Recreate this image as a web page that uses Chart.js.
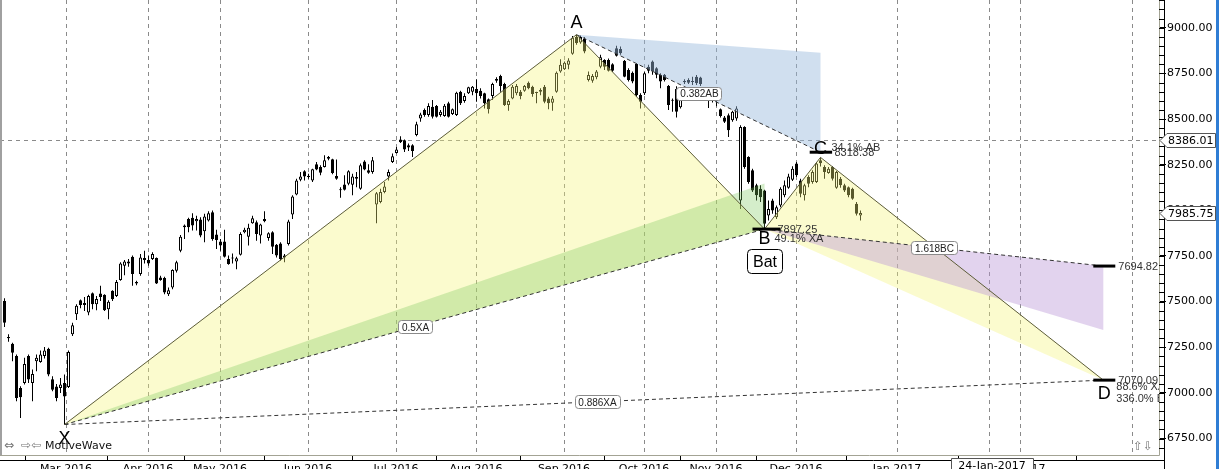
<!DOCTYPE html>
<html>
<head>
<meta charset="utf-8">
<script src="https://cdn.jsdelivr.net/npm/chart.js@4.4.1/dist/chart.umd.min.js"></script>
<style>
html, body { margin: 0; padding: 0; background: #fff; overflow: hidden; }
#wrap { position: relative; width: 1223px; height: 469px; }
#edge { position: absolute; left: 1216px; top: 0; width: 3px; height: 469px; background: #2f7dd4; }
</style>
</head>
<body>
<div id="wrap"><canvas id="myChart" width="1223" height="469"></canvas><div id="edge"></div></div>
<script>
var ctx = document.getElementById('myChart');

// daily bars, bar index 1..215
var opens = [
  7504, 7305, 7269, 7202, 7027, 7055, 7202, 7055, 7174, 7170,
  7202, 7242, 7075, 7035, 7027, 7055, 7033, 7321, 7431, 7508,
  7493, 7440, 7546, 7486, 7544, 7537, 7458, 7559, 7531, 7618,
  7697, 7709, 7746, 7608, 7651, 7728, 7728, 7733, 7739, 7632,
  7629, 7541, 7577, 7669, 7779, 7917, 7953, 7959, 7940, 7950,
  7885, 7944, 7990, 7867, 7830, 7830, 7733, 7736, 7720, 7757,
  7880, 7856, 7929, 7935, 7862, 7953, 7849, 7880, 7812, 7819,
  7752, 7816, 7977, 8087, 8168, 8214, 8190, 8164, 8252, 8237,
  8237, 8292, 8280, 8188, 8115, 8142, 8146, 8140, 8182, 8118,
  8268, 8219, 8210, 8032, 8045, 8100, 8186, 8265, 8314, 8388,
  8384, 8357, 8357, 8412, 8503, 8549, 8522, 8567, 8571, 8522,
  8516, 8586, 8527, 8522, 8650, 8599, 8641, 8650, 8665, 8655,
  8641, 8608, 8626, 8720, 8736, 8692, 8577, 8613, 8641, 8650,
  8655, 8699, 8677, 8646, 8659, 8677, 8613, 8589, 8650, 8760,
  8773, 8797, 8857, 8950, 8919, 8938, 8714, 8710, 8729, 8787,
  8824, 8824, 8800, 8888, 8883, 8819, 8769, 8754, 8802, 8632,
  8641, 8787, 8815, 8778, 8742, 8742, 8681, 8606, 8665, 8564,
  8702, 8714, 8703, 8732, 8727, 8640, 8610, 8625, 8600, 8553,
  8509, 8521, 8494, 8503, 8054, 8457, 8292, 8219, 8137, 8118,
  8109, 7972, 8054, 7962, 8027, 8082, 8124, 8168, 8256, 8164,
  8082, 8182, 8155, 8155, 8274, 8237, 8204, 8237, 8124, 8173,
  8137, 8127, 8118, 8036, 7972
];
var highs = [
  7519, 7321, 7275, 7211, 7037, 7192, 7211, 7128, 7211, 7233,
  7251, 7247, 7091, 7049, 7082, 7101, 7233, 7385, 7486, 7511,
  7526, 7537, 7550, 7531, 7587, 7541, 7508, 7563, 7618, 7715,
  7728, 7733, 7752, 7614, 7761, 7779, 7752, 7770, 7742, 7642,
  7636, 7577, 7678, 7724, 7865, 7922, 7959, 7984, 7971, 7962,
  7981, 7995, 7999, 7893, 7843, 7893, 7752, 7764, 7746, 7880,
  7904, 7926, 7971, 7944, 7926, 7995, 7880, 7885, 7816, 7825,
  7761, 7948, 8082, 8173, 8210, 8219, 8201, 8228, 8265, 8247,
  8302, 8298, 8283, 8278, 8127, 8192, 8219, 8201, 8210, 8256,
  8274, 8252, 8292, 8100, 8118, 8155, 8223, 8311, 8347, 8406,
  8388, 8366, 8362, 8485, 8534, 8558, 8586, 8604, 8577, 8549,
  8582, 8595, 8558, 8650, 8655, 8641, 8677, 8681, 8718, 8668,
  8644, 8613, 8699, 8729, 8742, 8699, 8608, 8686, 8692, 8659,
  8686, 8705, 8683, 8650, 8668, 8686, 8622, 8626, 8760, 8828,
  8815, 8833, 8955, 8962, 8958, 8949, 8760, 8747, 8769, 8852,
  8828, 8831, 8806, 8901, 8897, 8824, 8778, 8760, 8806, 8641,
  8760, 8797, 8820, 8784, 8751, 8747, 8687, 8613, 8680, 8613,
  8718, 8723, 8732, 8741, 8732, 8660, 8640, 8650, 8640, 8558,
  8516, 8531, 8545, 8570, 8466, 8461, 8296, 8228, 8146, 8137,
  8113, 8054, 8063, 8027, 8127, 8164, 8201, 8241, 8265, 8173,
  8146, 8192, 8219, 8260, 8290, 8247, 8237, 8241, 8215, 8182,
  8146, 8131, 8124, 8045, 7999
];
var lows = [
  7361, 7280, 7174, 6954, 6862, 7046, 7055, 6954, 7119, 7165,
  7189, 7091, 7009, 6954, 7000, 6827, 7027, 7312, 7400, 7464,
  7449, 7425, 7458, 7453, 7504, 7449, 7403, 7504, 7526, 7614,
  7645, 7691, 7587, 7590, 7642, 7709, 7697, 7728, 7596, 7614,
  7541, 7531, 7568, 7660, 7770, 7843, 7880, 7889, 7889, 7852,
  7825, 7939, 7834, 7788, 7779, 7742, 7702, 7709, 7678, 7752,
  7874, 7807, 7926, 7834, 7819, 7935, 7834, 7761, 7742, 7724,
  7715, 7807, 7953, 8082, 8159, 8164, 8173, 8155, 8219, 8192,
  8234, 8274, 8197, 8168, 8069, 8109, 8137, 8082, 8127, 8113,
  8219, 8201, 8201, 7929, 8039, 8094, 8164, 8259, 8311, 8369,
  8320, 8325, 8292, 8406, 8485, 8512, 8512, 8503, 8509, 8512,
  8512, 8509, 8522, 8516, 8577, 8589, 8637, 8631, 8595, 8613,
  8558, 8531, 8604, 8699, 8650, 8571, 8545, 8608, 8631, 8608,
  8650, 8663, 8622, 8586, 8631, 8586, 8553, 8545, 8644, 8754,
  8769, 8773, 8852, 8907, 8912, 8861, 8705, 8699, 8718, 8778,
  8769, 8760, 8758, 8842, 8852, 8729, 8705, 8696, 8622, 8558,
  8632, 8751, 8742, 8723, 8668, 8705, 8549, 8540, 8509, 8558,
  8692, 8692, 8686, 8686, 8681, 8600, 8560, 8590, 8570, 8509,
  8479, 8402, 8485, 8490, 8008, 8228, 8146, 8100, 8054, 8045,
  7897.25, 7944, 7981, 7953, 8017, 8072, 8118, 8160, 8182, 8072,
  8054, 8127, 8146, 8150, 8240, 8173, 8201, 8164, 8118, 8124,
  8100, 8072, 8058, 7972, 7944
];
var closes = [
  7385, 7300, 7220, 6972, 6976, 7159, 7073, 7104, 7192, 7211,
  7233, 7101, 7018, 6972, 7046, 6981, 7224, 7370, 7477, 7482,
  7482, 7531, 7486, 7515, 7526, 7453, 7499, 7513, 7608, 7709,
  7720, 7720, 7651, 7599, 7742, 7739, 7709, 7761, 7599, 7618,
  7550, 7563, 7673, 7715, 7856, 7907, 7907, 7917, 7953, 7862,
  7966, 7984, 7843, 7838, 7807, 7746, 7706, 7741, 7737, 7871,
  7893, 7904, 7957, 7871, 7922, 7940, 7874, 7801, 7752, 7733,
  7742, 7939, 8076, 8164, 8186, 8186, 8183, 8225, 8223, 8206,
  8274, 8283, 8204, 8173, 8110, 8113, 8214, 8186, 8173, 8247,
  8223, 8206, 8274, 8094, 8100, 8131, 8210, 8296, 8333, 8373,
  8333, 8344, 8325, 8472, 8525, 8522, 8571, 8512, 8512, 8540,
  8573, 8512, 8553, 8644, 8586, 8626, 8674, 8677, 8641, 8626,
  8586, 8553, 8692, 8710, 8681, 8577, 8599, 8677, 8681, 8626,
  8681, 8668, 8637, 8642, 8650, 8595, 8586, 8613, 8754, 8797,
  8809, 8820, 8945, 8916, 8950, 8870, 8741, 8736, 8760, 8839,
  8787, 8765, 8764, 8846, 8861, 8732, 8714, 8705, 8632, 8595,
  8751, 8765, 8760, 8742, 8705, 8714, 8577, 8600, 8540, 8608,
  8708, 8699, 8708, 8696, 8692, 8620, 8620, 8600, 8620, 8516,
  8485, 8439, 8540, 8558, 8457, 8237, 8155, 8109, 8082, 8072,
  7926, 8008, 7999, 8017, 8118, 8137, 8186, 8228, 8192, 8091,
  8137, 8146, 8210, 8256, 8258, 8210, 8228, 8173, 8210, 8137,
  8109, 8082, 8063, 7981, 7986
];

// x axis: bar position of each month start
var monthPos = [16.375, 36.875, 54.875, 76.875, 98.875, 118.875, 140.875, 160.875, 178.875, 198.875, 224.125, 254.875, 282.875];
var monthLabels = ['Mar 2016', 'Apr 2016', 'May 2016', 'Jun 2016', 'Jul 2016', 'Aug 2016', 'Sep 2016', 'Oct 2016', 'Nov 2016', 'Dec 2016', 'Jan 2017', 'Feb 2017', ''];
var priceTicks = [6750, 7000, 7250, 7500, 7750, 8000, 8250, 8500, 8750, 9000];

// Bat pattern pivots X A B C D
var pivotNames = ['X', 'A', 'B', 'C', 'D'];
var pivotIdx = [16, 144, 191, 205, 275.7];
var pivotVal = [6827, 8962, 7897.25, 8290, 7070.09];
var cLevel = 8318.38;
var targetLevels = [7694.82, 7070.09];
var bZone = [8147, 7897.25];
var cZone = [8863, 8318.38];
var dZone = [7694.82, 7344];
var lastPrice = 7985.75;
var cursorPrice = 8386.01;
var cursorIdx = 247.125;

function pt(i, v) { return { x: i, y: v }; }
var X = pt(pivotIdx[0], pivotVal[0]);
var A = pt(pivotIdx[1], pivotVal[1]);
var B = pt(pivotIdx[2], pivotVal[2]);
var C = pt(pivotIdx[3], pivotVal[3]);
var D = pt(pivotIdx[4], pivotVal[4]);
var C2 = pt(pivotIdx[3], cLevel);
var T1 = pt(pivotIdx[4], targetLevels[0]);

var wickData = [], bodyData = [], bodyFill = [];
for (var i = 0; i < opens.length; i++) {
  wickData.push({ x: i + 1, y: [lows[i], highs[i]] });
  var lo = Math.min(opens[i], closes[i]), hi = Math.max(opens[i], closes[i]);
  if (hi - lo < 6) hi = lo + 6;
  bodyData.push({ x: i + 1, y: [lo, hi] });
  bodyFill.push(closes[i] >= opens[i] ? '#ffffff' : '#000000');
}

function zone(points, color, order) {
  return { type: 'line', data: points, fill: 'shape', backgroundColor: color,
    borderColor: 'rgba(0,0,0,0)', borderWidth: 1, pointRadius: 0, tension: 0, order: order };
}
function leg(points, dashed, order) {
  return { type: 'line', data: points, fill: false, borderColor: dashed ? '#333' : '#5c5c38',
    borderWidth: 1, borderDash: dashed ? [4, 3] : [], pointRadius: 0, tension: 0, order: order };
}
function marker(i0, i1, v) {
  return { type: 'line', data: [pt(i0, v), pt(i1, v)], fill: false, borderColor: '#000',
    borderWidth: 3, pointRadius: 0, order: 0 };
}

function roundBox(c, x, y, w, h, r) {
  c.beginPath();
  c.roundRect(x, y, w, h, r);
}

var overlay = {
  id: 'overlay',
  beforeDatasetsDraw: function (chart) {
    var c = chart.ctx, a = chart.chartArea, xs = chart.scales.x, ys = chart.scales.y;
    c.save();
    c.strokeStyle = '#8a8a8a';
    c.lineWidth = 1;
    c.setLineDash([4, 4]);
    monthPos.concat([cursorIdx]).forEach(function (m) {
      var x = Math.round(xs.getPixelForValue(m)) + 0.5;
      c.beginPath(); c.moveTo(x, a.top); c.lineTo(x, a.bottom); c.stroke();
    });
    var y = Math.round(ys.getPixelForValue(cursorPrice)) + 0.5;
    c.beginPath(); c.moveTo(a.left, y); c.lineTo(a.right, y); c.stroke();
    c.restore();
  },
  afterDatasetsDraw: function (chart) {
    var c = chart.ctx, a = chart.chartArea, xs = chart.scales.x, ys = chart.scales.y;
    function px(i) { return xs.getPixelForValue(i); }
    function py(v) { return ys.getPixelForValue(v); }
    c.save();
    c.beginPath(); c.rect(a.left, a.top, a.right - a.left, a.bottom - a.top); c.clip();

    // ratio boxes on the legs
    function ratioBox(text, p, q, t) {
      var x = px(p.x) + (px(q.x) - px(p.x)) * t, y = py(p.y) + (py(q.y) - py(p.y)) * t;
      c.font = '10px "Liberation Sans"';
      var w = Math.round(c.measureText(text).width + 7), h = 13;
      roundBox(c, Math.round(x - w / 2) + 0.5, Math.round(y - h / 2) + 0.5, w, h, 3);
      c.fillStyle = '#fff'; c.fill();
      c.strokeStyle = '#8a8a8a'; c.lineWidth = 1; c.stroke();
      c.fillStyle = '#222'; c.textAlign = 'center'; c.textBaseline = 'middle';
      c.fillText(text, Math.round(x) + 0.5, Math.round(y) + 1);
    }
    ratioBox('0.5XA', X, B, 0.5);
    ratioBox('0.382AB', A, C2, 0.5);
    ratioBox('1.618BC', B, T1, 0.5);
    ratioBox('0.886XA', X, D, 0.513);

    // pivot letters
    c.fillStyle = '#000';
    c.font = '18px "Liberation Sans"';
    c.textAlign = 'center'; c.textBaseline = 'alphabetic';
    c.fillText(pivotNames[0], px(X.x), py(X.y) + 19);
    c.fillText(pivotNames[1], px(A.x), py(A.y) - 7);
    c.fillText(pivotNames[2], px(B.x), py(B.y) + 15);
    c.fillText(pivotNames[3], px(C.x), py(cLevel) + 2);
    c.fillText(pivotNames[4], px(D.x) + 1, py(D.y) + 19);

    // pattern name box
    var bx = px(B.x);
    roundBox(c, Math.round(bx - 17.5) + 0.5, 249.5, 35, 24, 4);
    c.fillStyle = '#fff'; c.fill();
    c.strokeStyle = '#000'; c.lineWidth = 1; c.stroke();
    c.fillStyle = '#000'; c.font = '16px "Liberation Sans"';
    c.fillText('Bat', bx + 0.5, 267);

    // price / ratio texts
    c.font = '11px "Liberation Sans"';
    c.textAlign = 'left';
    c.fillStyle = '#333';
    c.fillText(pivotVal[2].toFixed(2), px(B.x) + 13, py(B.y) + 4);
    c.fillText('49.1% XA', px(B.x) + 10, py(B.y) + 13);
    c.fillText('34.1% AB', px(C.x) + 11, py(cLevel) - 1);
    c.fillText(cLevel.toFixed(2), px(C.x) + 14, py(cLevel) + 4);
    c.fillText(targetLevels[0].toFixed(2), px(D.x) + 15, py(targetLevels[0]) + 4);
    c.fillText(targetLevels[1].toFixed(2), px(D.x) + 15, py(targetLevels[1]) + 4);
    c.fillText('88.6% XA', px(D.x) + 13, py(targetLevels[1]) + 10);
    c.fillText('336.0% BC', px(D.x) + 13, py(targetLevels[1]) + 22);
    c.restore();
  },
  afterDraw: function (chart) {
    var c = chart.ctx, a = chart.chartArea, ys = chart.scales.y;
    c.save();
    // frame and axis lines
    c.fillStyle = '#a0a0a0';
    c.fillRect(0, 0, 2, a.bottom);
    c.strokeStyle = '#a3a394'; c.lineWidth = 1;
    c.beginPath();
    c.moveTo(0, a.bottom + 0.5); c.lineTo(a.right + 0.5, a.bottom + 0.5);
    c.lineTo(a.right + 0.5, 0);
    c.stroke();
    c.strokeStyle = '#000';
    c.beginPath();
    c.moveTo(0, a.bottom + 5.5); c.lineTo(a.right + 5.5, a.bottom + 5.5);
    c.moveTo(a.right + 5.5, 0); c.lineTo(a.right + 5.5, 469);
    c.stroke();
    // minor price ticks
    c.beginPath();
    for (var v = 6700; v <= 9150; v += 50) {
      var y = Math.round(ys.getPixelForValue(v)) + 0.5;
      if (y > a.bottom) continue;
      c.moveTo(a.right, y); c.lineTo(a.right + 5, y);
    }
    c.stroke();

    // price flags on the axis
    function flag(v) {
      var y = Math.round(ys.getPixelForValue(v)) + 0.5, x0 = a.right + 1;
      c.beginPath();
      c.moveTo(x0, y); c.lineTo(x0 + 7, y - 7); c.lineTo(1215.5, y - 7);
      c.lineTo(1215.5, y + 7); c.lineTo(x0 + 7, y + 7); c.closePath();
      c.fillStyle = '#fff'; c.fill();
      c.strokeStyle = '#555'; c.stroke();
      c.fillStyle = '#000'; c.font = '11px "DejaVu Sans"';
      c.textAlign = 'left'; c.textBaseline = 'middle';
      c.fillText(v.toFixed(2), x0 + 8, y + 0.5);
    }
    flag(cursorPrice);
    flag(lastPrice);

    // date flag under the cursor line
    var cx = chart.scales.x.getPixelForValue(cursorIdx) + 3;
    c.beginPath(); c.rect(Math.round(cx - 41) + 0.5, 458.5, 82, 14);
    c.fillStyle = '#fff'; c.fill(); c.strokeStyle = '#555'; c.stroke();
    c.fillStyle = '#000'; c.font = '11px "DejaVu Sans"';
    c.textAlign = 'center'; c.textBaseline = 'top';
    c.fillText('24-Jan-2017', cx, 461);

    // watermark and scroll arrows
    c.textAlign = 'left'; c.textBaseline = 'alphabetic';
    c.fillStyle = '#777'; c.font = '12px "DejaVu Sans"';
    c.fillText('\u21D4', 4, 449);
    c.fillText('\u21E8\u21E6', 21, 449);
    c.fillText('\u21E7\u21E9', 1133, 450);
    c.fillStyle = '#111'; c.font = '11px "DejaVu Sans"';
    c.fillText('MotiveWave', 45, 449);
    c.restore();
  }
};

var chart = new Chart(ctx, {
  type: 'bar',
  data: {
    datasets: [
      marker(188, 195, pivotVal[2]),
      marker(202.3, 207.9, cLevel),
      marker(273.2, 278.7, targetLevels[0]),
      marker(273.2, 278.7, targetLevels[1]),
      leg([X, A, B, C, D], false, 1),
      leg([X, B], true, 1),
      leg([A, C2], true, 1),
      leg([B, T1], true, 1),
      leg([X, D], true, 1),
      zone([X, pt(B.x, bZone[0]), pt(B.x, bZone[1]), X], 'rgba(120,200,90,0.32)', 2),
      zone([A, pt(C.x, cZone[0]), pt(C.x, cZone[1]), A], 'rgba(150,185,220,0.45)', 2),
      zone([B, pt(D.x, dZone[0]), pt(D.x, dZone[1]), B], 'rgba(185,150,215,0.42)', 2),
      zone([X, A, B, X], 'rgba(245,245,120,0.36)', 3),
      zone([B, C, D, B], 'rgba(245,245,120,0.36)', 3),
      {
        type: 'bar', data: bodyData, backgroundColor: bodyFill, borderColor: '#000',
        borderWidth: 1, borderSkipped: false, barThickness: 3, grouped: false,
        inflateAmount: 0, order: 8
      },
      {
        type: 'bar', data: wickData, backgroundColor: '#000', borderWidth: 0,
        barThickness: 1, grouped: false, inflateAmount: 0, order: 9
      }
    ]
  },
  plugins: [overlay],
  options: {
    responsive: false,
    animation: false,
    events: [],
    layout: { padding: 0 },
    plugins: { legend: { display: false }, tooltip: { enabled: false } },
    scales: {
      x: {
        type: 'linear', offset: false, min: -0.125, max: 289.625,
        afterBuildTicks: function (s) { s.ticks = monthPos.map(function (m) { return { value: m }; }); },
        afterFit: function (s) { s.height = 14; s.paddingLeft = 0; s.paddingRight = 0; },
        grid: { drawOnChartArea: false, drawTicks: true, tickLength: 5, tickColor: '#000' },
        border: { display: false },
        ticks: {
          autoSkip: false, maxRotation: 0, padding: 3, color: '#000',
          font: { family: 'DejaVu Sans', size: 11 },
          callback: function (v, idx) { return monthLabels[idx]; }
        }
      },
      y: {
        type: 'linear', position: 'right', min: 6660, max: 9152,
        afterBuildTicks: function (s) { s.ticks = priceTicks.map(function (p) { return { value: p }; }); },
        afterFit: function (s) { s.width = 64; s.paddingTop = 0; s.paddingBottom = 0; },
        grid: { drawOnChartArea: false, drawTicks: true, tickLength: 7, tickColor: '#000' },
        border: { display: false },
        ticks: {
          padding: 1, color: '#000',
          font: { family: 'DejaVu Sans', size: 11 },
          callback: function (v) { return v.toFixed(2); }
        }
      }
    }
  }
});
</script>
</body>
</html>
